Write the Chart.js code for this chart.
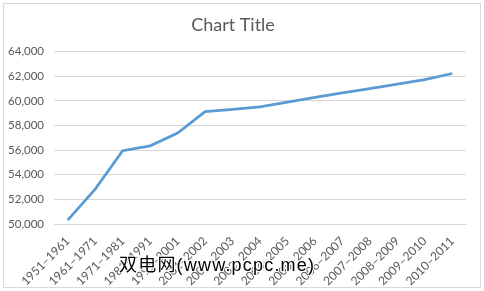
<!DOCTYPE html>
<html>
<head>
<meta charset="utf-8">
<script src="https://cdn.jsdelivr.net/npm/chart.js@4"></script>
<style>
html,body{margin:0;padding:0;background:#fff;}
#wrap{position:relative;width:484px;height:291px;}
#frame{position:absolute;left:3px;top:3px;width:476px;height:283px;border:1px solid #d9d9d9;box-sizing:content-box;pointer-events:none;}
canvas{position:absolute;left:0;top:0;}
#wm{position:absolute;left:119px;top:256px;font-family:"Liberation Sans","Noto Sans CJK SC",sans-serif;font-size:18px;line-height:18px;color:#000;
text-shadow:-1px -1px 0 #fff,1px -1px 0 #fff,-1px 1px 0 #fff,1px 1px 0 #fff;white-space:nowrap;letter-spacing:1.2px;}
</style>
</head>
<body>
<div id="wrap">
<canvas id="c" width="484" height="291"></canvas>
<div id="frame"></div>
<div id="wm">双电网(www.pcpc.me)</div>
</div>
<script>
const categories = ["1951–1961","1961–1971","1971–1981","1981–1991","1991–2001","2001–2002","2002–2003","2003–2004","2004–2005","2005–2006","2006–2007","2007–2008","2008–2009","2009–2010","2010–2011"];
const values = [50320,52830,55950,56350,57380,59130,59300,59510,59890,60290,60650,61000,61350,61720,62220];
const yTicks = [50000,52000,54000,56000,58000,60000,62000,64000];
const chartTitle = "Chart Title";

new Chart(document.getElementById('c'), {
  type: 'line',
  data: {
    labels: categories,
    datasets: [{
      data: values,
      borderColor: '#5b9bd5',
      borderWidth: 2.75,
      pointRadius: 0,
      tension: 0,
      fill: false
    }]
  },
  options: {
    responsive: false,
    animation: false,
    devicePixelRatio: 1,
    layout: { padding: { left: 0, right: 18, top: 0, bottom: 0 } },
    plugins: {
      legend: { display: false },
      tooltip: { enabled: false },
      title: {
        display: true,
        text: chartTitle,
        color: '#595959',
        font: { family: 'Lato, "Liberation Sans", sans-serif', size: 18, weight: 'normal' },
        padding: { top: 14, bottom: 16 }
      }
    },
    scales: {
      x: {
        offset: true,
        grid: { display: false },
        border: { display: true, color: '#d9d9d9', width: 1 },
        ticks: {
          color: '#595959',
          font: { family: 'Lato, "Liberation Sans", sans-serif', size: 12 },
          minRotation: 45, maxRotation: 45,
          autoSkip: false,
          padding: 2
        },
        afterFit: function(s){ s.height = 67; }
      },
      y: {
        min: 50000, max: 64000,
        afterBuildTicks: function(s){ s.ticks = yTicks.map(v => ({value: v})); },
        grid: { color: '#d9d9d9', drawTicks: false },
        border: { display: false },
        ticks: {
          color: '#595959',
          font: { family: 'Lato, "Liberation Sans", sans-serif', size: 11.5 },
          padding: 10,
          callback: v => v.toLocaleString('en-US')
        },
        afterFit: function(s){ s.width = 54; }
      }
    }
  }
});
</script>
</body>
</html>
